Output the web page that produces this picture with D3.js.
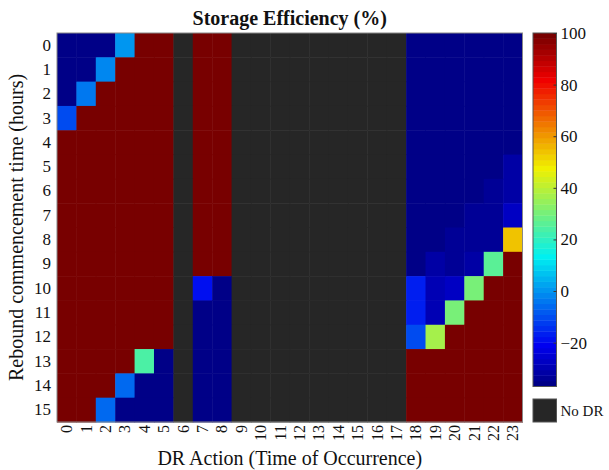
<!DOCTYPE html>
<html>
<head>
<meta charset="utf-8">
<script src="https://cdn.jsdelivr.net/npm/d3@7"></script>
<style>
  html, body { margin: 0; padding: 0; background: #fff; }
  svg text { font-family: "Liberation Serif", "Times New Roman", serif; fill: #111; }
</style>
</head>
<body>
<svg id="chart" width="609" height="470"></svg>
<script>
// ---- data ----
const xCategories = d3.range(0, 24).map(String);   // DR action hour
const yCategories = d3.range(0, 16).map(String);   // rebound commencement hour
const N = null; // No DR
// storage efficiency (%), rows = rebound time 0..15, cols = DR action 0..23
const efficiency = [
  [-36,-36,-36,  0,100,100, N,100,100, N,N,N,N,N,N,N,N,N, -36,-36,-36,-36,-36,-36],
  [-36,-36, -2,100,100,100, N,100,100, N,N,N,N,N,N,N,N,N, -36,-36,-36,-36,-36,-36],
  [-36, -3,100,100,100,100, N,100,100, N,N,N,N,N,N,N,N,N, -36,-36,-36,-36,-36,-36],
  [-11,100,100,100,100,100, N,100,100, N,N,N,N,N,N,N,N,N, -36,-36,-36,-36,-36,-36],
  [100,100,100,100,100,100, N,100,100, N,N,N,N,N,N,N,N,N, -36,-36,-36,-36,-36,-36],
  [100,100,100,100,100,100, N,100,100, N,N,N,N,N,N,N,N,N, -36,-36,-36,-36,-36,-31],
  [100,100,100,100,100,100, N,100,100, N,N,N,N,N,N,N,N,N, -36,-36,-36,-36,-34,-31],
  [100,100,100,100,100,100, N,100,100, N,N,N,N,N,N,N,N,N, -36,-36,-36,-34,-33,-27],
  [100,100,100,100,100,100, N,100,100, N,N,N,N,N,N,N,N,N, -35,-35,-33,-34,-33, 53],
  [100,100,100,100,100,100, N,100,100, N,N,N,N,N,N,N,N,N, -35,-31,-33,-31, 27,100],
  [100,100,100,100,100,100, N,-18,-36, N,N,N,N,N,N,N,N,N, -16,-30,-28, 30,100,100],
  [100,100,100,100,100,100, N,-36,-36, N,N,N,N,N,N,N,N,N, -17,-29, 30,100,100,100],
  [100,100,100,100,100,100, N,-36,-36, N,N,N,N,N,N,N,N,N, -10, 37,100,100,100,100],
  [100,100,100,100, 25,-36, N,-36,-36, N,N,N,N,N,N,N,N,N, 100,100,100,100,100,100],
  [100,100,100, -7,-36,-36, N,-36,-36, N,N,N,N,N,N,N,N,N, 100,100,100,100,100,100],
  [100,100, -5,-36,-36,-36, N,-36,-36, N,N,N,N,N,N,N,N,N, 100,100,100,100,100,100]
];
const colorDomain = [-37, 100];
const colorTicks = [-20, 0, 20, 40, 60, 80, 100];
const chartTitle = "Storage Efficiency (%)";
const xTitle = "DR Action (Time of Occurrence)";
const yTitle = "Rebound commencement time (hours)";
const noDrLabel = "No DR";

// ---- layout ----
const svg = d3.select("#chart");
const plot = { left: 57, top: 33, right: 522.5, bottom: 422 };
const nLevels = 64;
const noDrColor = "#262626";

function clamp01(v) { return Math.max(0, Math.min(1, v)); }
function jet(t) {
  const r = clamp01(Math.min(4 * t - 1.5, -4 * t + 4.5));
  const g = clamp01(Math.min(4 * t - 0.5, -4 * t + 3.5));
  const b = clamp01(Math.min(4 * t + 0.5, -4 * t + 2.5));
  return d3.rgb(r * 240, g * 240, b * 240).toString();
}
const levelScale = d3.scaleQuantize().domain(colorDomain).range(d3.range(nLevels));
const colorOf = v => v === null ? noDrColor : jet((levelScale(v) + 1) / nLevels);

const x = d3.scaleBand().domain(xCategories).range([plot.left, plot.right]).padding(0);
const y = d3.scaleBand().domain(yCategories).range([plot.top, plot.bottom]).padding(0);

const cells = [];
efficiency.forEach((row, i) => row.forEach((v, j) => cells.push({ r: yCategories[i], c: xCategories[j], v })));

svg.append("g").selectAll("rect").data(cells).join("rect")
  .attr("x", d => x(d.c))
  .attr("y", d => y(d.r))
  .attr("width", x.bandwidth() + 0.5)
  .attr("height", y.bandwidth() + 0.5)
  .attr("fill", d => colorOf(d.v));

svg.append("rect")
  .attr("x", plot.left).attr("y", plot.top)
  .attr("width", plot.right - plot.left).attr("height", plot.bottom - plot.top)
  .attr("fill", "none").attr("stroke", "#888").attr("stroke-width", 1);

// axes
const xAxis = svg.append("g").attr("transform", `translate(0,${plot.bottom})`)
  .call(d3.axisBottom(x).tickSize(0).tickPadding(0));
xAxis.select(".domain").remove();
xAxis.selectAll("text")
  .attr("transform", "rotate(-90)")
  .attr("x", -3).attr("y", 0).attr("dy", "0.35em")
  .style("text-anchor", "end")
  .style("font-size", "16px");

const yAxis = svg.append("g").attr("transform", `translate(${plot.left},0)`)
  .call(d3.axisLeft(y).tickSize(0).tickPadding(6));
yAxis.select(".domain").remove();
yAxis.selectAll("text").style("font-size", "17px");

// titles
svg.append("text").attr("x", (plot.left + plot.right) / 2).attr("y", 25)
  .attr("text-anchor", "middle").style("font-size", "20px").style("font-weight", "bold")
  .text(chartTitle);
svg.append("text").attr("x", (plot.left + plot.right) / 2).attr("y", 465)
  .attr("text-anchor", "middle").style("font-size", "20px").text(xTitle);
svg.append("text").attr("transform", `translate(23,${(plot.top + plot.bottom) / 2}) rotate(-90)`)
  .attr("text-anchor", "middle").style("font-size", "20px").text(yTitle);

// colorbar
const cb = { x: 533, w: 23.5, top: 33, bottom: 386.5 };
const cbScale = d3.scaleLinear().domain(colorDomain).range([cb.bottom, cb.top]);
const levels = d3.range(nLevels);
const levelH = (cb.bottom - cb.top) / nLevels;
svg.append("g").selectAll("rect").data(levels).join("rect")
  .attr("x", cb.x)
  .attr("y", i => cb.bottom - (i + 1) * levelH)
  .attr("width", cb.w)
  .attr("height", levelH + 0.4)
  .attr("fill", i => jet((i + 1) / nLevels));
svg.append("rect").attr("x", cb.x).attr("y", cb.top).attr("width", cb.w).attr("height", cb.bottom - cb.top)
  .attr("fill", "none").attr("stroke", "#555").attr("stroke-width", 1);
const cbAxis = svg.append("g").attr("transform", `translate(${cb.x + cb.w},0)`)
  .call(d3.axisRight(cbScale).tickValues(colorTicks).tickSize(-3).tickPadding(5).tickFormat(d3.format("d")));
cbAxis.select(".domain").remove();
cbAxis.selectAll("line").attr("stroke", "#333");
cbAxis.selectAll("text").style("font-size", "17px").attr("x", 4);

// No DR legend
svg.append("rect").attr("x", cb.x).attr("y", 399).attr("width", cb.w).attr("height", 23)
  .attr("fill", noDrColor).attr("stroke", "#555").attr("stroke-width", 1);
svg.append("text").attr("x", cb.x + cb.w + 4).attr("y", 411).attr("dy", "0.35em")
  .style("font-size", "15px").text(noDrLabel);
</script>
</body>
</html>
